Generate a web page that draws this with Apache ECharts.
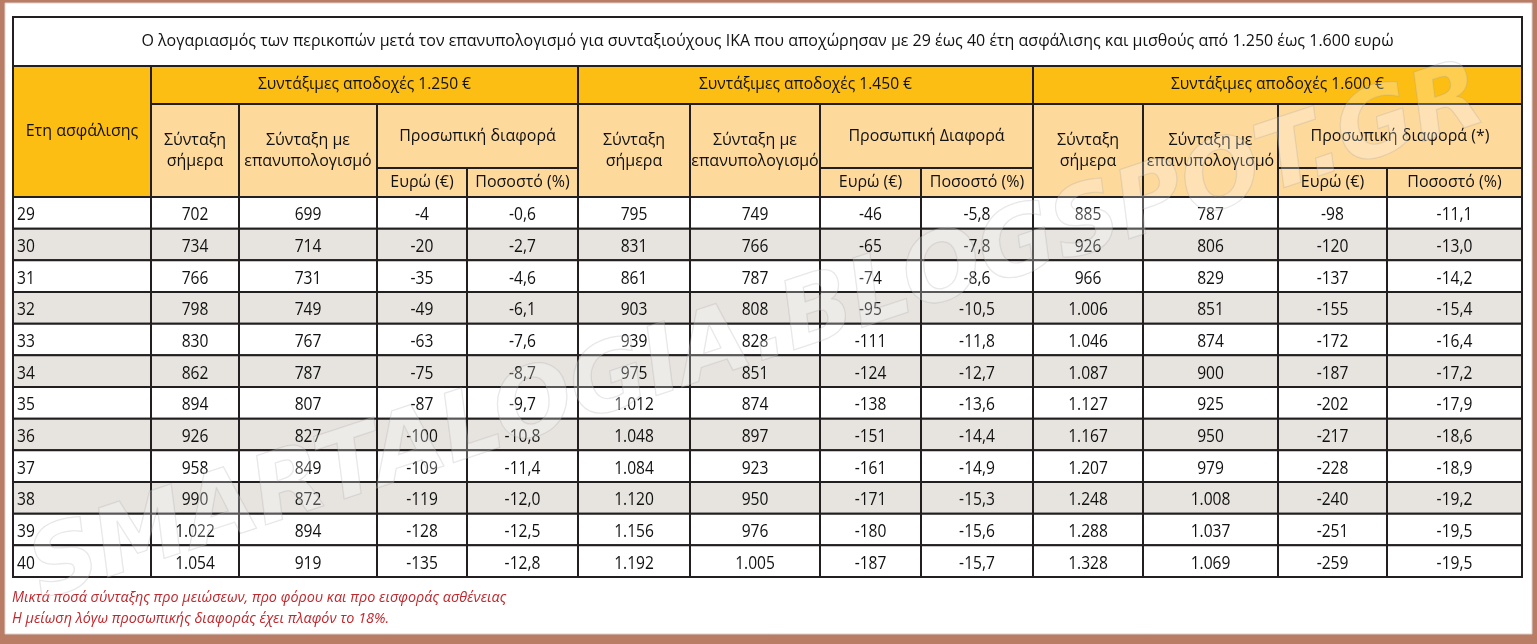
<!DOCTYPE html>
<html>
<head>
<meta charset="utf-8">
<script src="https://cdn.jsdelivr.net/npm/echarts@6/dist/echarts.min.js"></script>
<style>
html,body{margin:0;padding:0;background:#fff;}
#c{width:1537px;height:644px;}
</style>
</head>
<body>
<div id="c"></div>
<script>
// ---------- DATA ----------
var title = 'Ο λογαριασμός των περικοπών μετά τον επανυπολογισμό για συνταξιούχους ΙΚΑ που αποχώρησαν με 29 έως 40 έτη ασφάλισης και μισθούς από 1.250 έως 1.600 ευρώ';
var yearHeader = 'Ετη ασφάλισης';
var groupHeaders = ['Συντάξιμες αποδοχές 1.250 €', 'Συντάξιμες αποδοχές 1.450 €', 'Συντάξιμες αποδοχές 1.600 €'];
var colHeadToday = 'Σύνταξη\nσήμερα';
var colHeadRecalc = 'Σύνταξη με\nεπανυπολογισμό';
var diffHeaders = ['Προσωπική διαφορά', 'Προσωπική Διαφορά', 'Προσωπική διαφορά (*)'];
var subEuro = 'Ευρώ (€)';
var subPct = 'Ποσοστό (%)';
var footnotes = ['Μικτά ποσά σύνταξης προ μειώσεων, προ φόρου και προ εισφοράς ασθένειας', 'Η μείωση λόγω προσωπικής διαφοράς έχει πλαφόν το 18%.'];
var watermark = 'SMARTALOGIA.BLOGSPOT.GR';

var years = [29, 30, 31, 32, 33, 34, 35, 36, 37, 38, 39, 40];

var p1250Today  = [702, 734, 766, 798, 830, 862, 894, 926, 958, 990, 1022, 1054];
var p1250Recalc = [699, 714, 731, 749, 767, 787, 807, 827, 849, 872, 894, 919];
var p1250DiffEur = [-4, -20, -35, -49, -63, -75, -87, -100, -109, -119, -128, -135];
var p1250DiffPct = [-0.6, -2.7, -4.6, -6.1, -7.6, -8.7, -9.7, -10.8, -11.4, -12.0, -12.5, -12.8];

var p1450Today  = [795, 831, 861, 903, 939, 975, 1012, 1048, 1084, 1120, 1156, 1192];
var p1450Recalc = [749, 766, 787, 808, 828, 851, 874, 897, 923, 950, 976, 1005];
var p1450DiffEur = [-46, -65, -74, -95, -111, -124, -138, -151, -161, -171, -180, -187];
var p1450DiffPct = [-5.8, -7.8, -8.6, -10.5, -11.8, -12.7, -13.6, -14.4, -14.9, -15.3, -15.6, -15.7];

var p1600Today  = [885, 926, 966, 1006, 1046, 1087, 1127, 1167, 1207, 1248, 1288, 1328];
var p1600Recalc = [787, 806, 829, 851, 874, 900, 925, 950, 979, 1008, 1037, 1069];
var p1600DiffEur = [-98, -120, -137, -155, -172, -187, -202, -217, -228, -240, -251, -259];
var p1600DiffPct = [-11.1, -13.0, -14.2, -15.4, -16.4, -17.2, -17.9, -18.6, -18.9, -19.2, -19.5, -19.5];

// ---------- LAYOUT / STYLE ----------
var TL = 13, TR = 1522, TT = 17, HB = 197, TB = 577;
var colEdges = [13, 151, 239, 377, 467, 578, 690, 820, 921, 1033, 1143, 1278, 1387, 1522]; // px
var headRowEdges = [17, 66, 104, 168, 197]; // px
var shadedYears = [30, 32, 34, 36, 38];
var C_ORANGE = '#fdbe14', C_PEACH = '#fed99c', C_GRAY = '#e7e4e0', C_LINE = '#231f20';
var F_HEAD = "'Open Sans', 'Noto Sans', sans-serif";
var F_NUM = "'Open Sans', sans-serif";

function fmtInt(v) {
  var s = String(Math.abs(v));
  s = s.replace(/\B(?=(\d{3})+(?!\d))/g, '.');
  return (v < 0 ? '-' : '') + s;
}
function fmtPct(v) {
  return (v < 0 ? '-' : '') + Math.abs(v).toFixed(1).replace('.', ',');
}

// header cell structure: [colStart, colEnd, rowStart, rowEnd, text, fillKind]
var headCells = [];
headCells.push([0, 13, 0, 1, title, 'white']);
headCells.push([0, 1, 1, 4, yearHeader, 'orange']);
[0, 1, 2].forEach(function (g) {
  var b = 1 + 4 * g;
  headCells.push([b, b + 4, 1, 2, groupHeaders[g], 'orange']);
  headCells.push([b, b + 1, 2, 4, colHeadToday, 'peach']);
  headCells.push([b + 1, b + 2, 2, 4, colHeadRecalc, 'peach']);
  headCells.push([b + 2, b + 4, 2, 3, diffHeaders[g], 'peach']);
  headCells.push([b + 2, b + 3, 3, 4, subEuro, 'peach']);
  headCells.push([b + 3, b + 4, 3, 4, subPct, 'peach']);
});

// body cells
var columnsData = [
  p1250Today, p1250Recalc, p1250DiffEur, p1250DiffPct,
  p1450Today, p1450Recalc, p1450DiffEur, p1450DiffPct,
  p1600Today, p1600Recalc, p1600DiffEur, p1600DiffPct
];
var bodyCells = [];
years.forEach(function (yr, r) {
  bodyCells.push({ col: 0, row: r, text: String(yr) });
  columnsData.forEach(function (arr, k) {
    var isPct = (k % 4 === 3);
    bodyCells.push({ col: k + 1, row: r, text: isPct ? fmtPct(arr[r]) : fmtInt(arr[r]) });
  });
});

var chart = echarts.init(document.getElementById('c'), null, { renderer: 'canvas' });
var fills = { white: '#ffffff', orange: C_ORANGE, peach: C_PEACH };

var option = {
  animation: false,
  backgroundColor: '#b97c64',
  grid: [
    { left: TL, width: TR - TL, top: TT, height: HB - TT, containLabel: false },
    { left: TL, width: TR - TL, top: HB, height: TB - HB, containLabel: false }
  ],
  xAxis: [
    { gridIndex: 0, type: 'value', min: TL, max: TR, show: false },
    { gridIndex: 1, type: 'value', min: TL, max: TR, show: false }
  ],
  yAxis: [
    { gridIndex: 0, type: 'value', min: TT, max: HB, inverse: true, show: false },
    { gridIndex: 1, type: 'category', data: years.map(String), inverse: true, show: false }
  ],
  graphic: [
    { type: 'rect', z: -10, shape: { x: 5, y: 3, width: 1527, height: 631 }, style: { fill: '#ffffff', stroke: '#d9d4d0', lineWidth: 1 } },
    { type: 'text', z: 10, left: 12, top: 591, style: { text: footnotes[0], font: "italic 14.4px 'Open Sans', sans-serif", fill: '#c1272d' } },
    { type: 'text', z: 10, left: 12, top: 612, style: { text: footnotes[1], font: "italic 14.4px 'Open Sans', sans-serif", fill: '#c1272d' } },
    { type: 'text', z: 100, x: 758, y: 336, rotation: 0.32, style: { text: watermark, font: "bold italic 94px 'DejaVu Sans', sans-serif", fill: 'rgba(255,255,255,0.25)', stroke: 'rgba(150,150,150,0.25)', lineWidth: 1.3, align: 'center', verticalAlign: 'middle' } }
  ],
  series: [
    {
      type: 'custom',
      xAxisIndex: 0, yAxisIndex: 0,
      data: headCells.map(function (c) { return [colEdges[c[0]], headRowEdges[c[2]]]; }),
      renderItem: function (params, api) {
        var c = headCells[params.dataIndex];
        var p0 = api.coord([colEdges[c[0]], headRowEdges[c[2]]]);
        var p1 = api.coord([colEdges[c[1]], headRowEdges[c[3]]]);
        var x = p0[0], y = p0[1], w = p1[0] - p0[0], h = p1[1] - p0[1];
        var isTitle = c[5] === 'white';
        var fs = isTitle ? 16 : (c[2] === 1 && c[0] !== 0 ? 15.6 : 16);
        return {
          type: 'group',
          children: [
            { type: 'rect', shape: { x: x, y: y, width: w, height: h }, style: { fill: fills[c[5]], stroke: C_LINE, lineWidth: 2 } },
            { type: 'text', style: { text: c[4], x: x + w / 2, y: y + h / 2, align: 'center', verticalAlign: 'middle', font: fs + 'px ' + F_HEAD, lineHeight: 21, fill: '#111' } }
          ]
        };
      }
    },
    {
      type: 'custom',
      xAxisIndex: 1, yAxisIndex: 1,
      data: bodyCells.map(function (c) { return [colEdges[c.col], c.row]; }),
      renderItem: function (params, api) {
        var c = bodyCells[params.dataIndex];
        var pL = api.coord([colEdges[c.col], c.row]);
        var pR = api.coord([colEdges[c.col + 1], c.row]);
        var h = api.size([0, 1])[1];
        var x = pL[0], w = pR[0] - pL[0], y = pL[1] - h / 2;
        var shaded = shadedYears.indexOf(years[c.row]) >= 0;
        var left = c.col === 0;
        return {
          type: 'group',
          children: [
            { type: 'rect', shape: { x: x, y: y, width: w, height: h }, style: { fill: shaded ? C_GRAY : '#ffffff', stroke: C_LINE, lineWidth: 2 } },
            { type: 'text', x: left ? x + 4 : x + w / 2, y: y + h / 2 + 2, scaleX: 0.82, scaleY: 1,
              style: { text: c.text, x: 0, y: 0, align: left ? 'left' : 'center', verticalAlign: 'middle', font: '19px ' + F_NUM, fill: '#111' } }
          ]
        };
      }
    }
  ]
};
chart.setOption(option);
</script>
</body>
</html>
